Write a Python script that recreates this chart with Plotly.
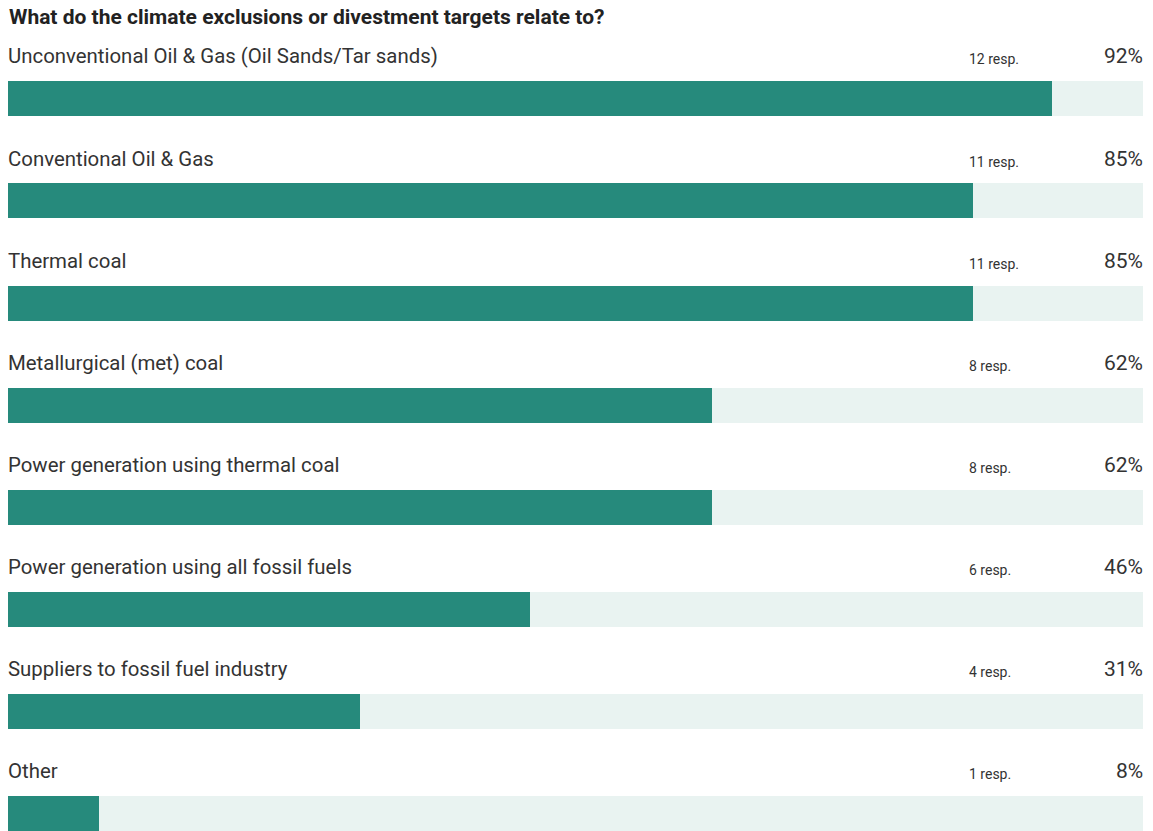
import plotly.graph_objects as go

# Survey answers: what climate exclusions / divestment targets relate to
categories = [
    "Unconventional Oil & Gas (Oil Sands/Tar sands)",
    "Conventional Oil & Gas",
    "Thermal coal",
    "Metallurgical (met) coal",
    "Power generation using thermal coal",
    "Power generation using all fossil fuels",
    "Suppliers to fossil fuel industry",
    "Other",
]
responses = [12, 11, 11, 8, 8, 6, 4, 1]
percents = [92, 85, 85, 62, 62, 46, 31, 8]

TEAL = "#268a7c"
TRACK = "#e9f3f1"
TEXT = "#333333"
FONT = "Roboto"

rows = list(range(len(categories)))
bar_w = 0.342
row_px = 102.1          # vertical pitch of one row in pixels
top_px, bottom_px = 41, 0
plot_h = 831 - top_px - bottom_px
y_bottom = len(categories) - 1 + bar_w / 2
y_top = y_bottom - plot_h / row_px

fig = go.Figure()
# Full-width background track
fig.add_trace(go.Bar(
    x=[100] * len(categories), y=rows, orientation="h",
    marker=dict(color=TRACK, line=dict(width=0)), width=bar_w,
    hoverinfo="skip", showlegend=False,
))
# Share of respondents
fig.add_trace(go.Bar(
    x=percents, y=rows, orientation="h",
    marker=dict(color=TEAL, line=dict(width=0)), width=bar_w,
    customdata=categories, hovertemplate="%{customdata}: %{x}%<extra></extra>",
    showlegend=False,
))

annotations = []
for i, (cat, n, p) in enumerate(zip(categories, responses, percents)):
    ylab = i - 0.435
    annotations.append(dict(
        x=0, y=ylab, xref="x", yref="y", text=cat, showarrow=False,
        xanchor="left", yanchor="middle", xshift=-2, yshift=-2,
        font=dict(family=FONT, size=20.4, color=TEXT),
    ))
    annotations.append(dict(
        x=84.5, y=ylab, xref="x", yref="y", text=f"{n} resp.", showarrow=False,
        xanchor="left", yanchor="middle", yshift=-5,
        font=dict(family=FONT, size=14, color=TEXT),
    ))
    annotations.append(dict(
        x=100, y=ylab, xref="x", yref="y", text=f"{p}%", showarrow=False,
        xanchor="right", yanchor="middle", xshift=2, yshift=-2,
        font=dict(family=FONT, size=21, color=TEXT),
    ))

fig.update_layout(
    width=1153, height=831,
    margin=dict(l=8, r=10, t=top_px, b=bottom_px),
    paper_bgcolor="white", plot_bgcolor="white",
    barmode="overlay", bargap=0,
    title=dict(
        text="<b>What do the climate exclusions or divestment targets relate to?</b>",
        xref="container", yref="container", x=9 / 1153, xanchor="left",
        y=1 - 17 / 831, yanchor="middle",
        font=dict(family=FONT, size=21, color="#222222"),
    ),
    xaxis=dict(range=[0, 100], visible=False, fixedrange=True),
    yaxis=dict(range=[y_bottom, y_top], visible=False, fixedrange=True),
    annotations=annotations,
    showlegend=False,
)

fig.write_html("out.html")
